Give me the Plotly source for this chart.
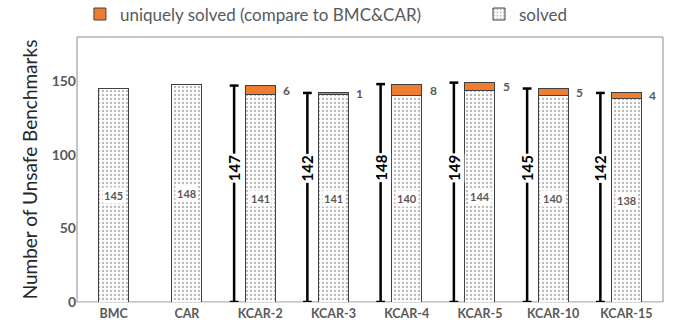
import plotly.graph_objects as go

# Benchmark configurations and results
categories = ["BMC", "CAR", "KCAR-2", "KCAR-3", "KCAR-4", "KCAR-5", "KCAR-10", "KCAR-15"]
solved = [145, 148, 141, 141, 140, 144, 140, 138]
unique = [0, 0, 6, 1, 8, 5, 5, 4]
y_ticks = [0, 50, 100, 150]

FONT = "Lato"
GRAY = "#595959"
ORANGE = "#ED7D31"
BAR_W = 0.41
BRACKET_DX = -0.355
CAP = 0.06

xs = list(range(len(categories)))
totals = [s + u for s, u in zip(solved, unique)]

fig = go.Figure()

fig.add_trace(go.Bar(
    x=xs, y=solved, name="solved", width=BAR_W, legend="legend2",
    marker=dict(color="white", line=dict(color="#404040", width=1),
                pattern=dict(shape=".", size=4, solidity=0.28,
                             fgcolor="#737373", bgcolor="white")),
))
fig.add_trace(go.Bar(
    x=xs, y=unique, name="uniquely solved (compare to BMC&CAR)", width=BAR_W,
    legend="legend",
    marker=dict(color=ORANGE, line=dict(color="#404040", width=1)),
))

# Total brackets beside the KCAR bars
bx, by = [], []
for i, (u, t) in enumerate(zip(unique, totals)):
    if u == 0:
        continue
    x0 = i + BRACKET_DX
    bx += [x0, x0, None, x0 - CAP, x0 + CAP, None, x0 - CAP, x0 + CAP, None]
    by += [0, t, None, 0, 0, None, t, t, None]
fig.add_trace(go.Scatter(x=bx, y=by, mode="lines", line=dict(color="black", width=2.5),
                         showlegend=False, hoverinfo="skip"))

annotations = []
for i, (s, u, t) in enumerate(zip(solved, unique, totals)):
    annotations.append(dict(x=i, y=s / 2, text=f"<b>{s}</b>", showarrow=False,
                            font=dict(family=FONT, size=11, color=GRAY),
                            bgcolor="white", borderpad=1))
    if u > 0:
        annotations.append(dict(x=i + BAR_W / 2, y=s + u / 2, text=f"<b>{u}</b>",
                                showarrow=False, xanchor="left", xshift=6,
                                font=dict(family=FONT, size=12, color=GRAY)))
        annotations.append(dict(x=i + BRACKET_DX, y=91, text=f"<b>{t}</b>",
                                showarrow=False, textangle=-90,
                                font=dict(family=FONT, size=15, color="black"),
                                bgcolor="white", borderpad=1))

legend_font = dict(family=FONT, size=17, color=GRAY)
fig.update_layout(
    width=678, height=333,
    margin=dict(l=77, r=15, t=37, b=31, autoexpand=False),
    barmode="stack",
    paper_bgcolor="white", plot_bgcolor="white",
    font=dict(family=FONT, color=GRAY),
    showlegend=True,
    legend=dict(orientation="h", x=0.005, xanchor="left", y=1.085, yanchor="middle",
                font=legend_font, bgcolor="rgba(0,0,0,0)"),
    legend2=dict(orientation="h", x=0.686, xanchor="left", y=1.085, yanchor="middle",
                 font=legend_font, bgcolor="rgba(0,0,0,0)"),
    xaxis=dict(range=[-0.5, len(categories) - 0.5], tickvals=xs,
               ticktext=[f"<b>{c}</b>" for c in categories],
               tickfont=dict(family=FONT, size=12.5, color=GRAY),
               showline=True, linecolor="#d9d9d9", linewidth=1,
               showgrid=False, zeroline=False, ticks=""),
    yaxis=dict(range=[0, 180], tickvals=y_ticks,
               ticktext=[f"<b>{v}</b>" for v in y_ticks],
               tickfont=dict(family=FONT, size=14, color=GRAY),
               showgrid=False, zeroline=False, ticks="",
               title=dict(text="Number of Unsafe Benchmarks",
                          font=dict(family=FONT, size=19, color="#262626"),
                          standoff=8)),
    annotations=annotations,
    shapes=[dict(type="rect", xref="paper", yref="paper", x0=0, x1=1, y0=0, y1=1,
                 line=dict(color="#8c8c8c", width=1), layer="below")],
)

fig.write_html("out.html")
